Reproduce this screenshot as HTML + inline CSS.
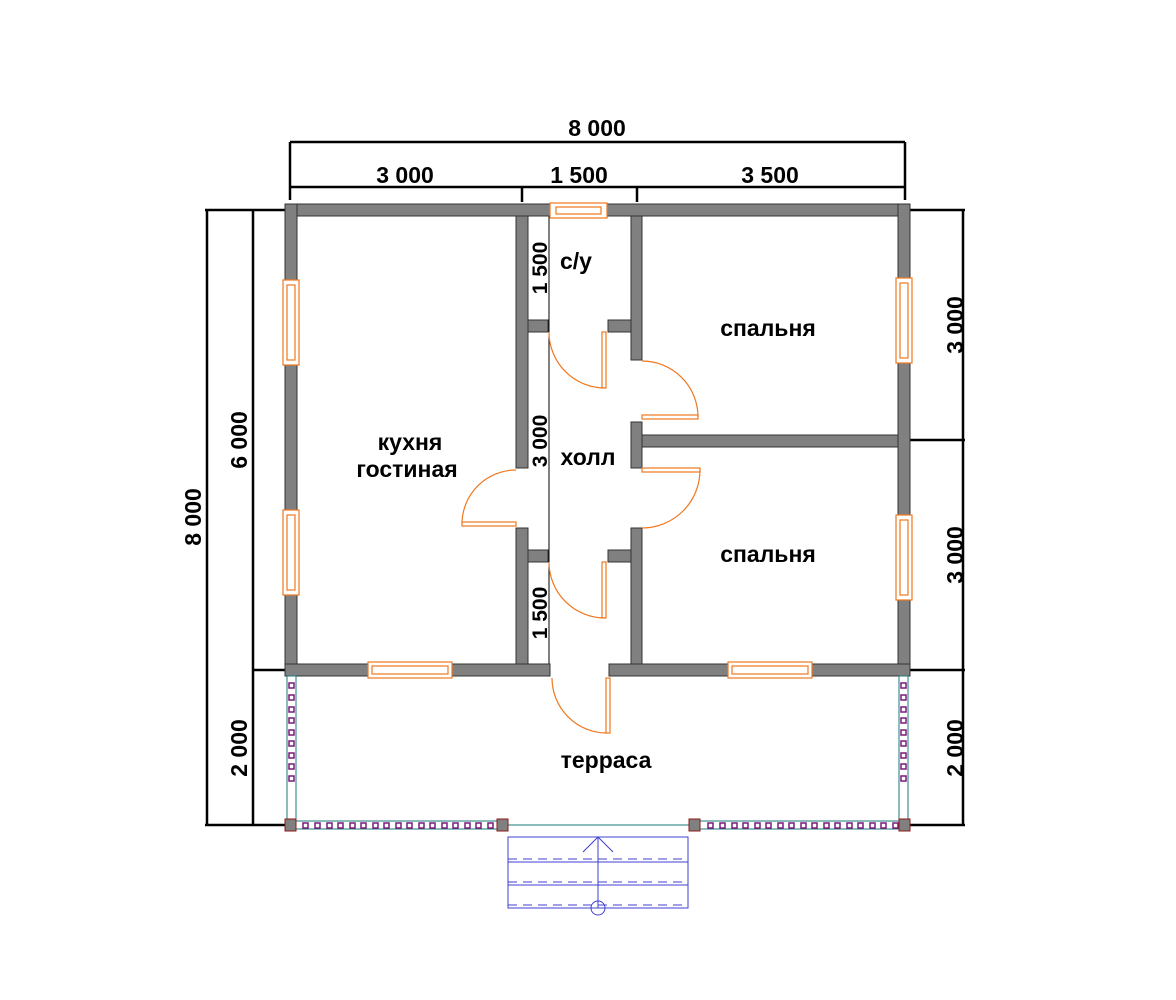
<!DOCTYPE html>
<html><head><meta charset="utf-8"><style>html,body{margin:0;background:#fff}svg{display:block}text{font-family:"Liberation Sans",sans-serif;font-weight:bold;fill:#000}</style></head><body>
<svg width="1176" height="1000" viewBox="0 0 1176 1000" xmlns="http://www.w3.org/2000/svg">
<g stroke="#000" stroke-width="2.5" fill="none">
<line x1="290" y1="142" x2="905" y2="142"/><line x1="290" y1="142" x2="290" y2="200"/><line x1="905" y1="142" x2="905" y2="200"/>
<line x1="290" y1="187" x2="905" y2="187"/><line x1="522" y1="187" x2="522" y2="202"/><line x1="637" y1="187" x2="637" y2="202"/>
<line x1="207" y1="210" x2="207" y2="825"/><line x1="205" y1="210" x2="290" y2="210"/><line x1="205" y1="825" x2="290" y2="825"/>
<line x1="253" y1="210" x2="253" y2="825"/><line x1="253" y1="670" x2="290" y2="670"/>
<line x1="963" y1="210" x2="963" y2="825"/><line x1="910" y1="210" x2="965" y2="210"/><line x1="910" y1="440" x2="965" y2="440"/><line x1="910" y1="670" x2="965" y2="670"/><line x1="910" y1="825" x2="965" y2="825"/>
<line x1="549" y1="210" x2="549" y2="665" stroke-width="1"/>
</g>
<g fill="#808080" stroke="#333" stroke-width="1">
<rect x="285" y="204" width="265" height="12"/><rect x="605" y="204" width="305" height="12"/>
<rect x="285" y="204" width="12" height="472"/><rect x="898" y="204" width="12" height="472"/>
<rect x="285" y="664" width="265" height="12"/><rect x="609" y="664" width="301" height="12"/>
<rect x="516" y="216" width="12" height="252"/><rect x="516" y="528" width="12" height="136"/>
<rect x="528" y="320" width="20" height="12"/><rect x="528" y="550" width="20" height="12"/>
<rect x="631" y="216" width="11" height="144"/><rect x="608" y="320" width="23" height="12"/>
<rect x="631" y="422" width="11" height="46"/><rect x="642" y="435" width="256" height="12"/>
<rect x="631" y="528" width="11" height="136"/><rect x="608" y="550" width="23" height="12"/>
</g>
<g fill="#fff" stroke="#f07820" stroke-width="1.2">
<rect x="550" y="203" width="57" height="15"/><rect x="556" y="207" width="45" height="7"/>
<rect x="283" y="280" width="16" height="85"/><rect x="287" y="285" width="8" height="75"/>
<rect x="283" y="510" width="16" height="85"/><rect x="287" y="515" width="8" height="75"/>
<rect x="896" y="278" width="16" height="85"/><rect x="900" y="283" width="8" height="75"/>
<rect x="896" y="515" width="16" height="85"/><rect x="900" y="520" width="8" height="75"/>
<rect x="368" y="662" width="84" height="16"/><rect x="372" y="666" width="76" height="8"/>
<rect x="728" y="662" width="84" height="16"/><rect x="732" y="666" width="76" height="8"/>
</g>
<g fill="none" stroke="#f07820" stroke-width="1.2">
<path d="M549 332 A56 56 0 0 0 605 388"/><rect x="602" y="332" width="4" height="56"/>
<path d="M698 417 A56 56 0 0 0 642 361"/><rect x="642" y="415" width="56" height="4"/>
<path d="M700 470 A58 58 0 0 1 642 528"/><rect x="642" y="468" width="58" height="4"/>
<path d="M462 524 A54 54 0 0 1 516 470"/><rect x="462" y="522" width="54" height="4"/>
<path d="M549 562 A56 56 0 0 0 605 618"/><rect x="602" y="562" width="4" height="56"/>
<path d="M552 678 A55 55 0 0 0 607 733"/><rect x="606" y="678" width="4" height="55"/>
</g>
<g stroke="#1a7a7a" stroke-width="1" fill="none">
<rect x="287" y="676" width="9" height="149"/><rect x="899" y="676" width="9" height="149"/>
<rect x="296" y="821" width="206" height="8"/><rect x="694" y="821" width="206" height="8"/>
<line x1="502" y1="825" x2="694" y2="825"/>
</g>
<g fill="#fff" stroke="#7a1a7a" stroke-width="1.5">
<g id="vp"><rect x="289" y="683" width="5" height="5"/><rect x="289" y="695" width="5" height="5"/><rect x="289" y="707" width="5" height="5"/><rect x="289" y="718" width="5" height="5"/><rect x="289" y="730" width="5" height="5"/><rect x="289" y="741" width="5" height="5"/><rect x="289" y="753" width="5" height="5"/><rect x="289" y="764" width="5" height="5"/><rect x="289" y="776" width="5" height="5"/></g>
<use href="#vp" x="612"/>
<g id="hp"><rect x="303" y="823" width="5" height="5"/><rect x="315" y="823" width="5" height="5"/><rect x="327" y="823" width="5" height="5"/><rect x="338" y="823" width="5" height="5"/><rect x="350" y="823" width="5" height="5"/><rect x="361" y="823" width="5" height="5"/><rect x="373" y="823" width="5" height="5"/><rect x="384" y="823" width="5" height="5"/><rect x="396" y="823" width="5" height="5"/><rect x="407" y="823" width="5" height="5"/><rect x="419" y="823" width="5" height="5"/><rect x="430" y="823" width="5" height="5"/><rect x="442" y="823" width="5" height="5"/><rect x="453" y="823" width="5" height="5"/><rect x="465" y="823" width="5" height="5"/><rect x="476" y="823" width="5" height="5"/><rect x="488" y="823" width="5" height="5"/></g>
<use href="#hp" x="405"/>
</g>
<g fill="#808080" stroke="#8b1a1a" stroke-width="1">
<rect x="285" y="819" width="11" height="12"/><rect x="497" y="819" width="11" height="12"/><rect x="689" y="819" width="11" height="12"/><rect x="899" y="819" width="11" height="12"/>
</g>
<g stroke="#4040d0" stroke-width="1" fill="none">
<rect x="508" y="837" width="180" height="71"/><line x1="508" y1="862" x2="688" y2="862"/><line x1="508" y1="885" x2="688" y2="885"/>
<g stroke-dasharray="9 6"><line x1="508" y1="859" x2="688" y2="859"/><line x1="508" y1="882" x2="688" y2="882"/><line x1="508" y1="905" x2="688" y2="905"/></g>
<line x1="598" y1="837" x2="598" y2="908"/><polyline points="583,852 598,837 613,852"/><circle cx="598" cy="908" r="7"/>
</g>
<g font-size="23" text-anchor="middle">
<text x="597" y="136">8 000</text>
<text x="405" y="183">3 000</text><text x="579" y="183">1 500</text><text x="770" y="183">3 500</text>
<text transform="translate(201,517) rotate(-90)">8 000</text>
<text transform="translate(247,440) rotate(-90)">6 000</text>
<text transform="translate(247,748) rotate(-90)">2 000</text>
<text transform="translate(963,325) rotate(-90)">3 000</text>
<text transform="translate(963,555) rotate(-90)">3 000</text>
<text transform="translate(963,748) rotate(-90)">2 000</text>
<text transform="translate(547,268) rotate(-90)" font-size="21">1 500</text>
<text transform="translate(547,441) rotate(-90)" font-size="21">3 000</text>
<text transform="translate(547,613) rotate(-90)" font-size="21">1 500</text>
<text x="576" y="269">с/у</text>
<text x="768" y="336">спальня</text>
<text x="410" y="450">кухня</text><text x="407" y="477">гостиная</text>
<text x="588" y="465">холл</text>
<text x="768" y="562">спальня</text>
<text x="606" y="768">терраса</text>
</g>
</svg>
</body></html>
